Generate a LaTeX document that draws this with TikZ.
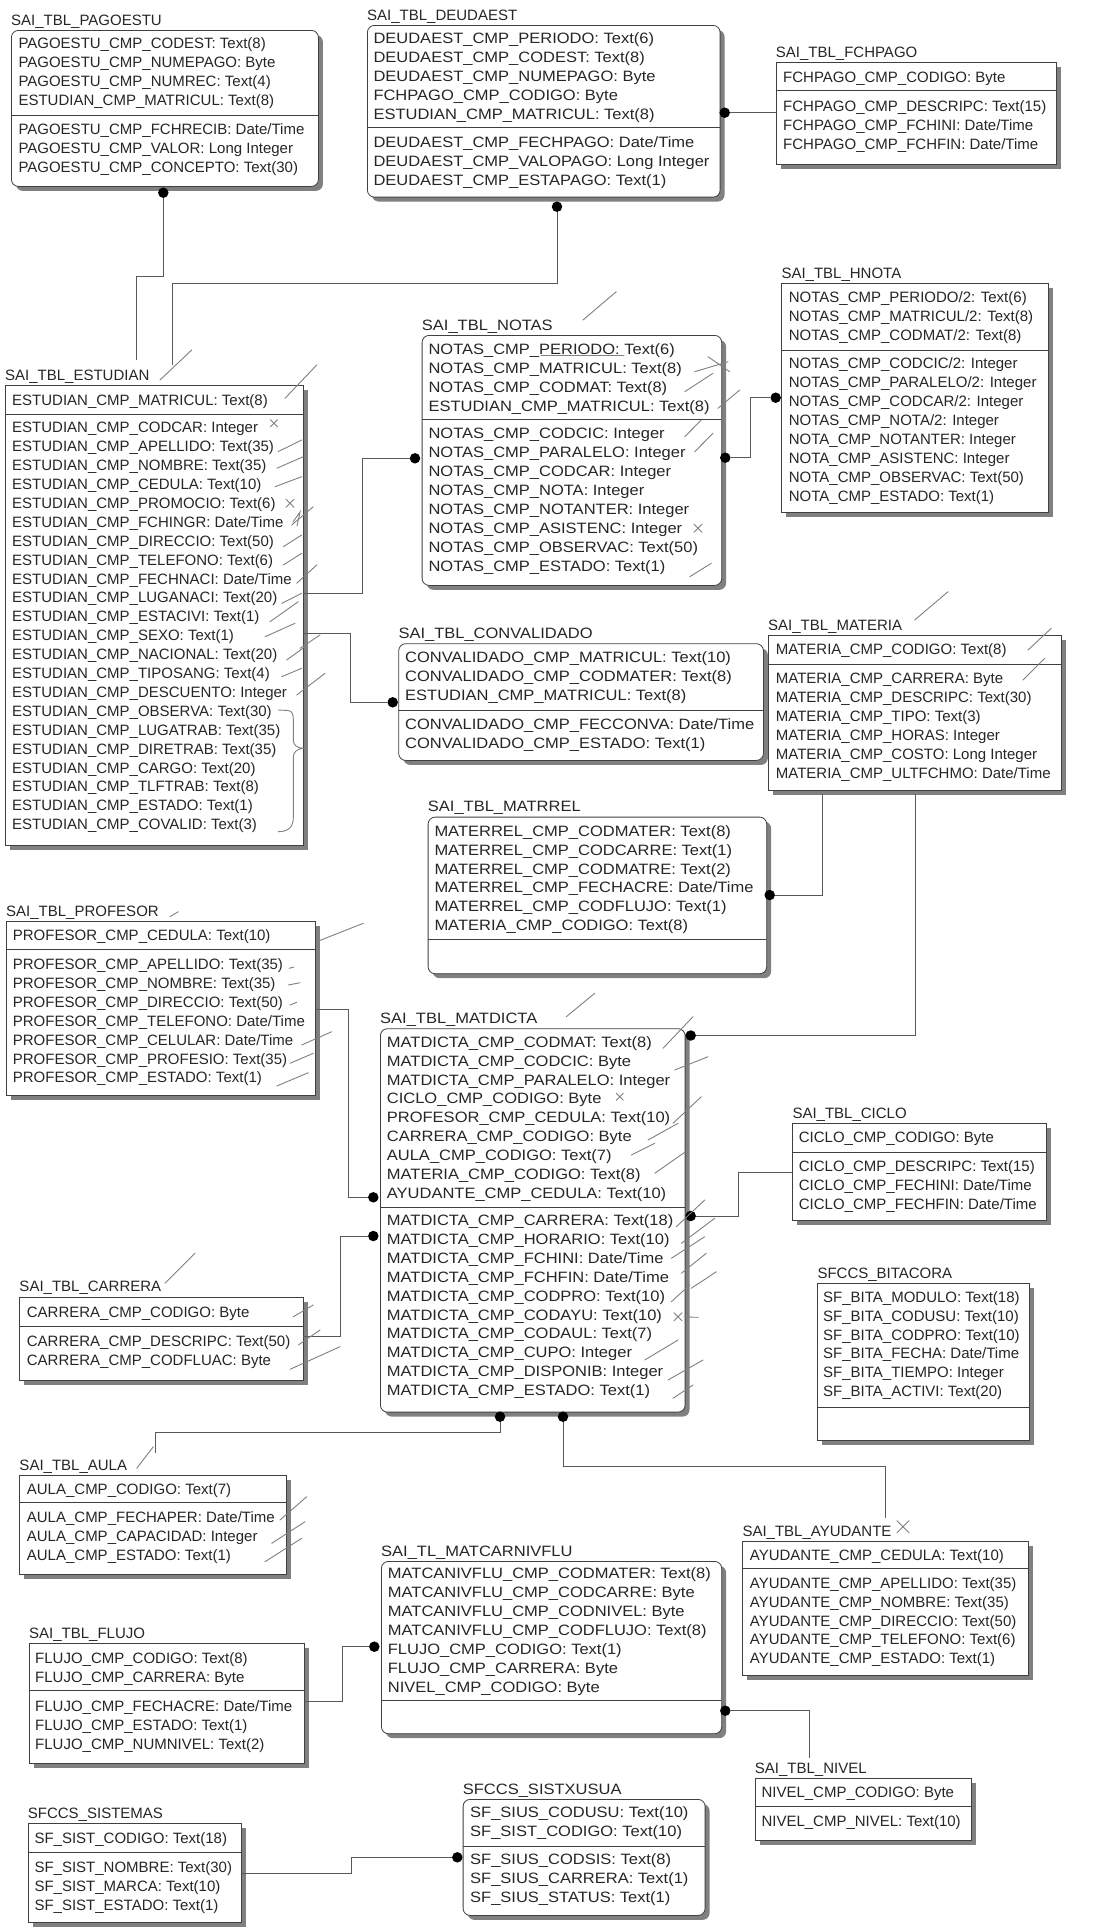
\documentclass[tikz,border=0pt]{standalone}
\usepackage{fontspec}
\setmainfont{Liberation Sans}
\newfontfamily\widefont[FakeStretch=1.1]{Liberation Sans}
\usetikzlibrary{shadows}
\newcommand{\ent}[8]{%
  \node[#2, minimum width={#5-#3}, minimum height={#6-#4}] (#1) at (#3,#4) {};
  \draw[sepline] (#3,#7) -- (#5,#7);
  \node[etitle] (#1-title) at (#3,{#4-5}) {#8};}
\newcommand{\erows}[5]{%
  \foreach \t [count=\i from 0] in {#5}{%
    \node[erow,#4] (#1-\i) at (#2,{#3+5.5+\i*18.9}) {\t};}}
\newcommand{\penx}[3]{\draw[pen] ({#1-#3},{#2-#3}) -- ({#1+#3},{#2+#3}) ({#1-#3},{#2+#3}) -- ({#1+#3},{#2-#3});}
\begin{document}
\begin{tikzpicture}[x=1pt,y=-1pt,
  ebox/.style={draw=black!75, line width=0.8pt, fill=white, anchor=north west, inner sep=0pt,
     drop shadow={shadow xshift=4.5pt, shadow yshift=-4.5pt, fill=black!50, opacity=1}},
  rbox/.style={ebox, rounded corners=7pt},
  sepline/.style={draw=black!75, line width=0.8pt},
  etitle/.style={anchor=base west, inner sep=0pt, text=black!85, font=\fontsize{15}{18}\selectfont},
  erow/.style={anchor=base west, inner sep=0pt, text=black!85, font=\fontsize{15}{18}\selectfont},
  wide/.style={font=\fontsize{15}{18}\widefont},
  conn/.style={draw=black!65, line width=0.8pt},
  pen/.style={draw=black!50, line width=0.9pt, line cap=round},
  fkdot/.style={circle, fill=black, inner sep=0pt, minimum size=10.5pt}]
\fill[white] (0,0) rectangle (1097,1928);
\useasboundingbox (0,0) rectangle (1097,1928);

% ---------------- entities
\ent{pago}{rbox}{11}{30}{318}{186}{115}{SAI\_TBL\_PAGOESTU}
\erows{pago-k}{18.3}{43.3}{}{PAGOESTU\_CMP\_CODEST: Text(8), PAGOESTU\_CMP\_NUMEPAGO: Byte, PAGOESTU\_CMP\_NUMREC: Text(4), ESTUDIAN\_CMP\_MATRICUL: Text(8)}
\erows{pago-n}{18.3}{129}{}{PAGOESTU\_CMP\_FCHRECIB: Date/Time, PAGOESTU\_CMP\_VALOR: Long Integer, PAGOESTU\_CMP\_CONCEPTO: Text(30)}

\ent{deud}{rbox}{367}{25}{719.7}{196.7}{127.7}{SAI\_TBL\_DEUDAEST}
\erows{deud-k}{373.3}{38.3}{wide}{DEUDAEST\_CMP\_PERIODO: Text(6), DEUDAEST\_CMP\_CODEST: Text(8), DEUDAEST\_CMP\_NUMEPAGO: Byte, FCHPAGO\_CMP\_CODIGO: Byte, ESTUDIAN\_CMP\_MATRICUL: Text(8)}
\erows{deud-n}{373.3}{142.3}{wide}{DEUDAEST\_CMP\_FECHPAGO: Date/Time, DEUDAEST\_CMP\_VALOPAGO: Long Integer, DEUDAEST\_CMP\_ESTAPAGO: Text(1)}

\ent{fch}{ebox}{775.7}{62.3}{1056.3}{164.3}{90.7}{SAI\_TBL\_FCHPAGO}
\erows{fch-k}{783}{77.3}{}{FCHPAGO\_CMP\_CODIGO: Byte}
\erows{fch-n}{783}{106}{}{FCHPAGO\_CMP\_DESCRIPC: Text(15), FCHPAGO\_CMP\_FCHINI: Date/Time, FCHPAGO\_CMP\_FCHFIN: Date/Time}

\ent{hnota}{ebox}{781.3}{283.3}{1048}{511.7}{350}{SAI\_TBL\_HNOTA}
\erows{hnota-k}{788.7}{296.7}{}{NOTAS\_CMP\_PERIODO/2: Text(6), NOTAS\_CMP\_MATRICUL/2: Text(8), NOTAS\_CMP\_CODMAT/2: Text(8)}
\erows{hnota-n}{788.7}{363.3}{}{NOTAS\_CMP\_CODCIC/2: Integer, NOTAS\_CMP\_PARALELO/2: Integer, NOTAS\_CMP\_CODCAR/2: Integer, NOTAS\_CMP\_NOTA/2: Integer, NOTA\_CMP\_NOTANTER: Integer, NOTA\_CMP\_ASISTENC: Integer, NOTA\_CMP\_OBSERVAC: Text(50), NOTA\_CMP\_ESTADO: Text(1)}

\ent{notas}{rbox}{421.7}{335}{721.3}{585}{419}{\widefont SAI\_TBL\_NOTAS}
\erows{notas-k}{428.3}{349.3}{wide}{NOTAS\_CMP\_PERIODO: Text(6), NOTAS\_CMP\_MATRICUL: Text(8), NOTAS\_CMP\_CODMAT: Text(8), ESTUDIAN\_CMP\_MATRICUL: Text(8)}
\erows{notas-n}{428.3}{433.3}{wide}{NOTAS\_CMP\_CODCIC: Integer, NOTAS\_CMP\_PARALELO: Integer, NOTAS\_CMP\_CODCAR: Integer, NOTAS\_CMP\_NOTA: Integer, NOTAS\_CMP\_NOTANTER: Integer, NOTAS\_CMP\_ASISTENC: Integer, NOTAS\_CMP\_OBSERVAC: Text(50), NOTAS\_CMP\_ESTADO: Text(1)}

\ent{estu}{ebox}{5}{385}{303.3}{845}{414.3}{SAI\_TBL\_ESTUDIAN}
\erows{estu-k}{12}{400}{}{ESTUDIAN\_CMP\_MATRICUL: Text(8)}
\erows{estu-n}{12}{427.3}{}{ESTUDIAN\_CMP\_CODCAR: Integer, ESTUDIAN\_CMP\_APELLIDO: Text(35), ESTUDIAN\_CMP\_NOMBRE: Text(35), ESTUDIAN\_CMP\_CEDULA: Text(10), ESTUDIAN\_CMP\_PROMOCIO: Text(6), ESTUDIAN\_CMP\_FCHINGR: Date/Time, ESTUDIAN\_CMP\_DIRECCIO: Text(50), ESTUDIAN\_CMP\_TELEFONO: Text(6), ESTUDIAN\_CMP\_FECHNACI: Date/Time, ESTUDIAN\_CMP\_LUGANACI: Text(20), ESTUDIAN\_CMP\_ESTACIVI: Text(1), ESTUDIAN\_CMP\_SEXO: Text(1), ESTUDIAN\_CMP\_NACIONAL: Text(20), ESTUDIAN\_CMP\_TIPOSANG: Text(4), ESTUDIAN\_CMP\_DESCUENTO: Integer, ESTUDIAN\_CMP\_OBSERVA: Text(30), ESTUDIAN\_CMP\_LUGATRAB: Text(35), ESTUDIAN\_CMP\_DIRETRAB: Text(35), ESTUDIAN\_CMP\_CARGO: Text(20), ESTUDIAN\_CMP\_TLFTRAB: Text(8), ESTUDIAN\_CMP\_ESTADO: Text(1), ESTUDIAN\_CMP\_COVALID: Text(3)}

\ent{conv}{rbox}{398.3}{643.3}{763}{760}{710}{\widefont SAI\_TBL\_CONVALIDADO}
\erows{conv-k}{405}{656.7}{wide}{CONVALIDADO\_CMP\_MATRICUL: Text(10), CONVALIDADO\_CMP\_CODMATER: Text(8), ESTUDIAN\_CMP\_MATRICUL: Text(8)}
\erows{conv-n}{405}{724}{wide}{CONVALIDADO\_CMP\_FECCONVA: Date/Time, CONVALIDADO\_CMP\_ESTADO: Text(1)}

\ent{mat}{ebox}{768}{635}{1061.3}{790}{664}{SAI\_TBL\_MATERIA}
\erows{mat-k}{775.7}{649.3}{}{MATERIA\_CMP\_CODIGO: Text(8)}
\erows{mat-n}{775.7}{678.3}{}{MATERIA\_CMP\_CARRERA: Byte, MATERIA\_CMP\_DESCRIPC: Text(30), MATERIA\_CMP\_TIPO: Text(3), MATERIA\_CMP\_HORAS: Integer, MATERIA\_CMP\_COSTO: Long Integer, MATERIA\_CMP\_ULTFCHMO: Date/Time}

\ent{mrel}{rbox}{427.7}{816.7}{766.3}{973.3}{939.3}{\widefont SAI\_TBL\_MATRREL}
\erows{mrel-k}{434.3}{830.7}{wide}{MATERREL\_CMP\_CODMATER: Text(8), MATERREL\_CMP\_CODCARRE: Text(1), MATERREL\_CMP\_CODMATRE: Text(2), MATERREL\_CMP\_FECHACRE: Date/Time, MATERREL\_CMP\_CODFLUJO: Text(1), MATERIA\_CMP\_CODIGO: Text(8)}

\ent{prof}{ebox}{6}{921}{315}{1095}{949.3}{SAI\_TBL\_PROFESOR}
\erows{prof-k}{12.7}{935}{}{PROFESOR\_CMP\_CEDULA: Text(10)}
\erows{prof-n}{12.7}{964}{}{PROFESOR\_CMP\_APELLIDO: Text(35), PROFESOR\_CMP\_NOMBRE: Text(35), PROFESOR\_CMP\_DIRECCIO: Text(50), PROFESOR\_CMP\_TELEFONO: Date/Time, PROFESOR\_CMP\_CELULAR: Date/Time, PROFESOR\_CMP\_PROFESIO: Text(35), PROFESOR\_CMP\_ESTADO: Text(1)}

\ent{mdic}{rbox}{380}{1028.3}{684.7}{1411.7}{1207.3}{\widefont SAI\_TBL\_MATDICTA}
\erows{mdic-k}{386.7}{1041.7}{wide}{MATDICTA\_CMP\_CODMAT: Text(8), MATDICTA\_CMP\_CODCIC: Byte, MATDICTA\_CMP\_PARALELO: Integer, CICLO\_CMP\_CODIGO: Byte, PROFESOR\_CMP\_CEDULA: Text(10), CARRERA\_CMP\_CODIGO: Byte, AULA\_CMP\_CODIGO: Text(7), MATERIA\_CMP\_CODIGO: Text(8), AYUDANTE\_CMP\_CEDULA: Text(10)}
\erows{mdic-n}{386.7}{1220}{wide}{MATDICTA\_CMP\_CARRERA: Text(18), MATDICTA\_CMP\_HORARIO: Text(10), MATDICTA\_CMP\_FCHINI: Date/Time, MATDICTA\_CMP\_FCHFIN: Date/Time, MATDICTA\_CMP\_CODPRO: Text(10), MATDICTA\_CMP\_CODAYU: Text(10), MATDICTA\_CMP\_CODAUL: Text(7), MATDICTA\_CMP\_CUPO: Integer, MATDICTA\_CMP\_DISPONIB: Integer, MATDICTA\_CMP\_ESTADO: Text(1)}

\ent{ciclo}{ebox}{792.3}{1123.3}{1045.7}{1220}{1152.3}{SAI\_TBL\_CICLO}
\erows{ciclo-k}{798.7}{1137.3}{}{CICLO\_CMP\_CODIGO: Byte}
\erows{ciclo-n}{798.7}{1166}{}{CICLO\_CMP\_DESCRIPC: Text(15), CICLO\_CMP\_FECHINI: Date/Time, CICLO\_CMP\_FECHFIN: Date/Time}

\ent{bita}{ebox}{817.3}{1283.3}{1029}{1440}{1407.7}{SFCCS\_BITACORA}
\erows{bita-k}{823}{1296.7}{}{SF\_BITA\_MODULO: Text(18), SF\_BITA\_CODUSU: Text(10), SF\_BITA\_CODPRO: Text(10), SF\_BITA\_FECHA: Date/Time, SF\_BITA\_TIEMPO: Integer, SF\_BITA\_ACTIVI: Text(20)}

\ent{carr}{ebox}{19.3}{1296.7}{303.3}{1380}{1326}{SAI\_TBL\_CARRERA}
\erows{carr-k}{26.7}{1311.7}{}{CARRERA\_CMP\_CODIGO: Byte}
\erows{carr-n}{26.7}{1340.7}{}{CARRERA\_CMP\_DESCRIPC: Text(50), CARRERA\_CMP\_CODFLUAC: Byte}

\ent{aula}{ebox}{19.3}{1475}{286}{1574.3}{1502.7}{SAI\_TBL\_AULA}
\erows{aula-k}{26.7}{1489}{}{AULA\_CMP\_CODIGO: Text(7)}
\erows{aula-n}{26.7}{1517.3}{}{AULA\_CMP\_FECHAPER: Date/Time, AULA\_CMP\_CAPACIDAD: Integer, AULA\_CMP\_ESTADO: Text(1)}

\ent{mcnf}{rbox}{381}{1561}{721.3}{1733.3}{1700}{\widefont SAI\_TL\_MATCARNIVFLU}
\erows{mcnf-k}{387.7}{1573.3}{wide}{MATCANIVFLU\_CMP\_CODMATER: Text(8), MATCANIVFLU\_CMP\_CODCARRE: Byte, MATCANIVFLU\_CMP\_CODNIVEL: Byte, MATCANIVFLU\_CMP\_CODFLUJO: Text(8), FLUJO\_CMP\_CODIGO: Text(1), FLUJO\_CMP\_CARRERA: Byte, NIVEL\_CMP\_CODIGO: Byte}

\ent{ayu}{ebox}{742.3}{1541}{1028}{1675}{1568.3}{SAI\_TBL\_AYUDANTE}
\erows{ayu-k}{749.7}{1555}{}{AYUDANTE\_CMP\_CEDULA: Text(10)}
\erows{ayu-n}{749.7}{1582.7}{}{AYUDANTE\_CMP\_APELLIDO: Text(35), AYUDANTE\_CMP\_NOMBRE: Text(35), AYUDANTE\_CMP\_DIRECCIO: Text(50), AYUDANTE\_CMP\_TELEFONO: Text(6), AYUDANTE\_CMP\_ESTADO: Text(1)}

\ent{flujo}{ebox}{29}{1643.3}{304.3}{1763.3}{1690.7}{SAI\_TBL\_FLUJO}
\erows{flujo-k}{35}{1658.3}{}{FLUJO\_CMP\_CODIGO: Text(8), FLUJO\_CMP\_CARRERA: Byte}
\erows{flujo-n}{35}{1706}{}{FLUJO\_CMP\_FECHACRE: Date/Time, FLUJO\_CMP\_ESTADO: Text(1), FLUJO\_CMP\_NUMNIVEL: Text(2)}

\ent{nivel}{ebox}{754.7}{1778.3}{971.3}{1840}{1806.7}{SAI\_TBL\_NIVEL}
\erows{nivel-k}{761.3}{1792.3}{}{NIVEL\_CMP\_CODIGO: Byte}
\erows{nivel-n}{761.3}{1820.7}{}{NIVEL\_CMP\_NIVEL: Text(10)}

\ent{sist}{ebox}{27.7}{1823.3}{240.7}{1921.7}{1852.3}{SFCCS\_SISTEMAS}
\erows{sist-k}{34.3}{1837.7}{}{SF\_SIST\_CODIGO: Text(18)}
\erows{sist-n}{34.3}{1866.7}{}{SF\_SIST\_NOMBRE: Text(30), SF\_SIST\_MARCA: Text(10), SF\_SIST\_ESTADO: Text(1)}

\ent{sxu}{rbox}{462.7}{1799}{704.7}{1915}{1846}{\widefont SFCCS\_SISTXUSUA}
\erows{sxu-k}{470}{1812.3}{wide}{SF\_SIUS\_CODUSU: Text(10), SF\_SIST\_CODIGO: Text(10)}
\erows{sxu-n}{470}{1859.3}{wide}{SF\_SIUS\_CODSIS: Text(8), SF\_SIUS\_CARRERA: Text(1), SF\_SIUS\_STATUS: Text(1)}

% ---------------- relationship dots
\node[fkdot] (dt-pago) at (163.3,192.7) {};
\node[fkdot] (dt-deud-b) at (557,206.7) {};
\node[fkdot] (dt-deud-r) at (724.7,112.7) {};
\node[fkdot] (dt-notas-l) at (415,458.3) {};
\node[fkdot] (dt-notas-r) at (725.3,457.7) {};
\node[fkdot] (dt-hnota) at (775.7,397.7) {};
\node[fkdot] (dt-conv) at (392.7,702.3) {};
\node[fkdot] (dt-mrel) at (769.7,895) {};
\node[fkdot] (dt-mdic-r1) at (690.7,1035.5) {};
\node[fkdot] (dt-mdic-r2) at (690.7,1216) {};
\node[fkdot] (dt-mdic-l1) at (373.3,1197.3) {};
\node[fkdot] (dt-mdic-l2) at (373.3,1236) {};
\node[fkdot] (dt-mdic-b1) at (500,1416.7) {};
\node[fkdot] (dt-mdic-b2) at (563,1416.7) {};
\node[fkdot] (dt-mcnf-l) at (374.3,1646.7) {};
\node[fkdot] (dt-mcnf-r) at (725.3,1710.7) {};
\node[fkdot] (dt-sxu) at (457.3,1857.3) {};

% ---------------- free connector ends
\coordinate (estu-a) at (136,360);
\coordinate (estu-b) at (172,365);
\coordinate (estu-r1) at (303.3,593.3);
\coordinate (estu-r2) at (303.3,633.3);
\coordinate (mat-b1) at (822,794);
\coordinate (mat-b2) at (915.7,794);
\coordinate (prof-r) at (315,1009.3);
\coordinate (ciclo-l) at (792.3,1172.3);
\coordinate (carr-r) at (303.3,1336.7);
\coordinate (aula-t) at (155,1453);
\coordinate (ayu-t) at (885.3,1518.3);
\coordinate (flujo-r) at (304.3,1701.7);
\coordinate (nivel-t) at (809,1758.3);
\coordinate (sist-r) at (240.7,1873.3);

% ---------------- connectors
\draw[conn] (dt-pago) |- (136,276.7) -- (estu-a);
\draw[conn] (dt-deud-b) |- (172,283) -- (estu-b);
\draw[conn] (dt-deud-r) -- (dt-deud-r -| fch.west);
\draw[conn] (dt-notas-l) -| (362.3,593.3) -- (estu-r1);
\draw[conn] (dt-notas-r) -| (750.3,397.7) -- (dt-hnota);
\draw[conn] (estu-r2) -| (350,702.3) -- (dt-conv);
\draw[conn] (mat-b1) |- (dt-mrel);
\draw[conn] (mat-b2) |- (dt-mdic-r1);
\draw[conn] (prof-r) -| (348.3,1197.3) -- (dt-mdic-l1);
\draw[conn] (ciclo-l) -| (738.7,1216) -- (dt-mdic-r2);
\draw[conn] (carr-r) -| (340,1236) -- (dt-mdic-l2);
\draw[conn] (dt-mdic-b1) |- (155,1432.3) -- (aula-t);
\draw[conn] (dt-mdic-b2) |- (885.3,1466.7) -- (ayu-t);
\draw[conn] (flujo-r) -| (342.3,1646.7) -- (dt-mcnf-l);
\draw[conn] (dt-mcnf-r) -| (nivel-t);
\draw[conn] (sist-r) -| (351,1857.3) -- (dt-sxu);

% ---------------- hand-drawn pen marks
% ESTUDIAN
\draw[pen] (160,380) -- (191.7,350);
\draw[pen] (285,398.3) -- (316.7,365);
\penx{274}{423.3}{3.5}
\draw[pen] (278,451.7) -- (301.7,440);
\draw[pen] (276.7,468.3) -- (303.3,456.7);
\draw[pen] (275,486.7) -- (301.7,476.7);
\penx{290}{503.3}{4}
\draw[pen] (291.7,525) -- (313.3,506.7);
\draw[pen] (293,522) -- (300,512) -- (297,526);
\draw[pen] (283.3,546.7) -- (301.7,535);
\draw[pen] (283.3,565) -- (301.7,553.3);
\draw[pen] (296.7,583.3) -- (316.7,565);
\draw[pen] (281.7,603.3) -- (301.7,593.3);
\draw[pen] (270,621.7) -- (298.3,601.7);
\draw[pen] (265,636.7) -- (295,623.3);
\draw[pen] (300,648.3) -- (320,635);
\draw[pen] (286.7,660) -- (305,646.7);
\draw[pen] (281.7,676.7) -- (301.7,668.3);
\draw[pen] (296.7,695) -- (325,673.3);
\draw[pen] (278.3,710) -- (288,710.5) .. controls (292,711) and (293.3,714) .. (293.3,719) -- (293.3,740) .. controls (293.3,745) and (297,748) .. (303.3,748.3) .. controls (297,749) and (293.3,752) .. (293.3,757) -- (293.3,818) .. controls (293.3,827) and (288,831.7) .. (278.3,831.7);
% PROFESOR
\draw[pen] (170,916.7) -- (178.3,911.7);
\draw[pen] (316.7,941.7) -- (363.3,923.3);
\draw[pen] (289,968.3) -- (294,967);
\draw[pen] (288.3,985) -- (300,982.7);
\draw[pen] (290,1005) -- (296.7,1002.3);
\draw[pen] (301.7,1045) -- (331.7,1031.7);
\draw[pen] (290,1063.3) -- (313.3,1053.3);
\draw[pen] (276.7,1086) -- (308.3,1072.7);
% CARRERA
\draw[pen] (165,1283.3) -- (195,1253.3);
\draw[pen] (293.3,1316.7) -- (313.3,1305);
\draw[pen] (298.3,1345) -- (320,1330);
\draw[pen] (290,1369.3) -- (340,1346.7);
% AULA
\draw[pen] (136.7,1468.3) -- (153.3,1446.7);
\draw[pen] (280,1520) -- (306.7,1496.7);
\draw[pen] (271.7,1543.3) -- (305,1521.7);
\draw[pen] (265,1561.7) -- (301.7,1538.3);
% NOTAS
\draw[pen] (583,320) -- (616.3,291.7);
\draw[pen] (541,355) -- (624,355);
\draw[pen] (694.7,371.7) -- (728,361.7);
\draw[pen] (708,356.7) -- (729.7,371.7);
\draw[pen] (684.7,391.7) -- (713,373.3);
\draw[pen] (718,408.3) -- (739.7,390);
\draw[pen] (684.7,436.7) -- (701.3,420);
\draw[pen] (694.7,451.7) -- (713,433.3);
\penx{698}{528.3}{4}
\draw[pen] (689.7,576.7) -- (711.3,563.3);
% MATERIA
\draw[pen] (914.7,620) -- (948,591.7);
\draw[pen] (1028,650) -- (1051.3,628.3);
\draw[pen] (1023,680) -- (1044.7,658.3);
% MATDICTA
\draw[pen] (566.3,1016.7) -- (594.7,993.3);
\draw[pen] (663,1048.3) -- (693,1016.7);
\draw[pen] (674.7,1070) -- (708,1056.7);
\penx{619.7}{1096.7}{3.5}
\draw[pen] (673,1123.3) -- (701.3,1096.7);
\draw[pen] (648,1140) -- (678,1123.3);
\draw[pen] (631.3,1155) -- (654.7,1143.3);
\draw[pen] (654.7,1173.3) -- (688,1150);
\draw[pen] (676.3,1226.7) -- (704.7,1200);
\draw[pen] (681.3,1243.3) -- (714.7,1218.3);
\draw[pen] (671.3,1258.3) -- (704.7,1236.7);
\draw[pen] (681.3,1273.3) -- (706.3,1253.3);
\draw[pen] (691.3,1288.3) -- (716.3,1271.7);
\draw[pen] (671.3,1301.7) -- (689.7,1285);
\penx{678}{1316.7}{4}
\draw[pen] (684,1317) -- (698,1317.3);
\draw[pen] (644.7,1360) -- (678,1340);
\draw[pen] (668,1380) -- (703,1360);
\draw[pen] (673,1398.3) -- (693,1385);
% AYUDANTE
\penx{903}{1526.7}{6}
\end{tikzpicture}
\end{document}
